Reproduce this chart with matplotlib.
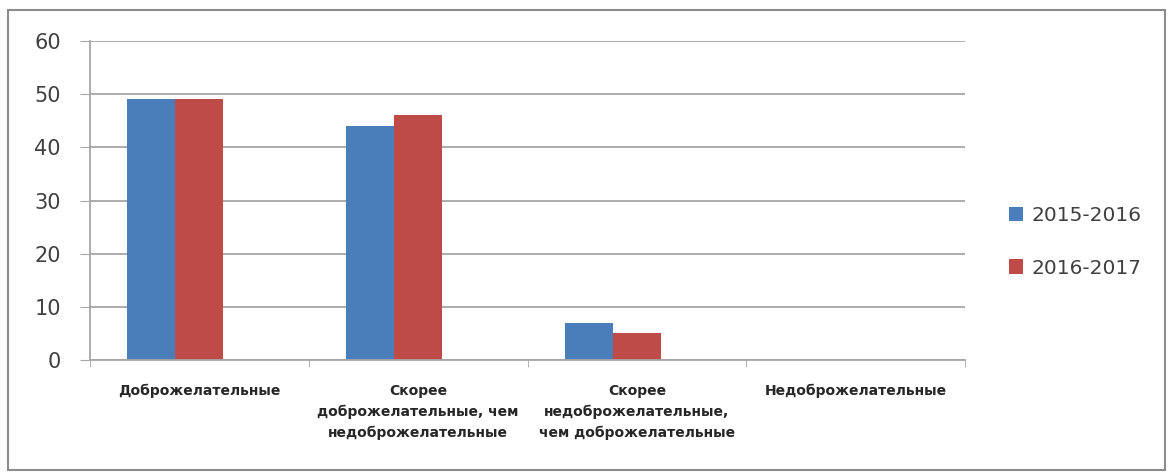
import matplotlib
matplotlib.use("Agg")
import matplotlib.pyplot as plt
from matplotlib.patches import Rectangle
import numpy as np

# data
categories = [
    "Доброжелательные",
    "Скорее\nдоброжелательные, чем\nнедоброжелательные",
    "Скорее\nнедоброжелательные,\nчем доброжелательные",
    "Недоброжелательные",
]
series_names = ["2015-2016", "2016-2017"]
values_2015 = [49, 44, 7, 0]
values_2016 = [49, 46, 5, 0]
y_ticks = [0, 10, 20, 30, 40, 50, 60]

blue = "#4a7ebb"
red = "#be4b48"

fig = plt.figure(figsize=(11.72, 4.73), dpi=100)
# outer chart border
fig.patches.append(Rectangle((8 / 1172, 3 / 473), 1157 / 1172, 460 / 473,
                             transform=fig.transFigure, fill=False,
                             edgecolor="#8c8c8c", linewidth=1.5))

ax = fig.add_axes([90 / 1172, 1 - 360 / 473, 875 / 1172, 319 / 473])

x = np.arange(len(categories))
w = 0.22
# excel layout with an empty third slot: bars sit left of centre
ax.bar(x - w, values_2015, width=w, color=blue, label=series_names[0])
ax.bar(x, values_2016, width=w, color=red, label=series_names[1])

ax.set_xlim(-0.5, len(categories) - 0.5)
ax.set_ylim(0, 60)
ax.set_yticks(y_ticks)
ax.set_yticklabels([str(t) for t in y_ticks], fontsize=15, color="#404040")
ax.yaxis.grid(True, color="#a6a6a6", linewidth=1.3)
ax.set_axisbelow(True)

ax.set_xticks(x)
ax.set_xticklabels(categories, fontsize=10, fontweight="bold", color="#262626",
                   linespacing=1.6)
ax.set_xticks(np.arange(-0.5, len(categories)), minor=True)
ax.tick_params(axis="x", which="major", length=0, pad=17)
ax.tick_params(axis="x", which="minor", length=5, color="#a6a6a6")
ax.tick_params(axis="y", length=7, color="#a6a6a6", pad=14)

for s in ["top", "right"]:
    ax.spines[s].set_visible(False)
ax.spines["left"].set_color("#a6a6a6")
ax.spines["bottom"].set_color("#a6a6a6")
ax.spines["left"].set_linewidth(1.3)
ax.spines["bottom"].set_linewidth(1.3)

ax.legend(loc="center left", bbox_to_anchor=(1.03, 0.37), frameon=False,
          fontsize=14.5, handlelength=0.7, handleheight=0.7, handletextpad=0.4,
          labelspacing=1.65, labelcolor="#404040")

fig.savefig("out.png", dpi=100)
